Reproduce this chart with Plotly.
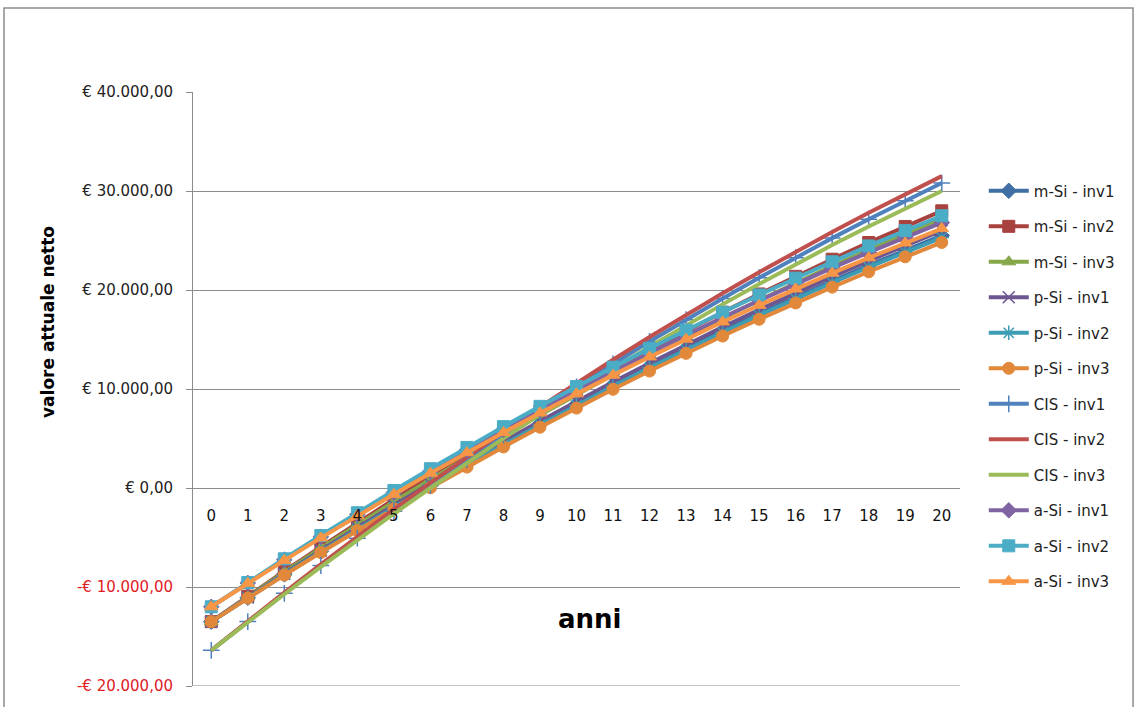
import plotly.graph_objects as go

anni = list(range(21))

m_si_inv1 = [-13500, -11080, -8710, -6390, -4120, -1900, 270, 2400, 4470, 6490, 8470, 10390, 12270, 14100, 15870, 17600, 19280, 20910, 22490, 24020, 25500]
m_si_inv2 = [-13500, -10930, -8400, -5940, -3520, -1160, 1160, 3420, 5620, 7780, 9880, 11930, 13920, 15870, 17760, 19600, 21380, 23110, 24800, 26420, 28000]
m_si_inv3 = [-13500, -10980, -8500, -6080, -3710, -1390, 870, 3090, 5250, 7370, 9430, 11440, 13390, 15300, 17150, 18960, 20710, 22410, 24060, 25650, 27200]
p_si_inv1 = [-13500, -11050, -8650, -6300, -4000, -1750, 450, 2600, 4700, 6750, 8750, 10700, 12600, 14450, 16250, 18000, 19700, 21350, 22950, 24500, 26000]
p_si_inv2 = [-13500, -11090, -8740, -6430, -4170, -1960, 200, 2320, 4380, 6390, 8360, 10270, 12140, 13960, 15720, 17440, 19110, 20730, 22300, 23830, 25300]
p_si_inv3 = [-13500, -11120, -8800, -6520, -4290, -2110, 30, 2110, 4150, 6140, 8070, 9970, 11810, 13600, 15350, 17040, 18690, 20290, 21840, 23350, 24800]
cis_inv1 = [-16400, -13490, -10640, -7830, -5070, -2360, 280, 2870, 5380, 7820, 10210, 12530, 14800, 17000, 19150, 21240, 23270, 25240, 27150, 29010, 30800]
cis_inv2 = [-16400, -13450, -10550, -7700, -4900, -2150, 530, 3150, 5700, 8180, 10600, 12960, 15260, 17500, 19680, 21800, 23860, 25860, 27800, 29680, 31500]
cis_inv3 = [-16400, -13540, -10730, -7970, -5260, -2600, 0, 2540, 5010, 7410, 9760, 12040, 14270, 16440, 18550, 20600, 22600, 24540, 26420, 28240, 30000]
a_si_inv1 = [-12000, -9590, -7240, -4930, -2670, -460, 1700, 3820, 5880, 7890, 9860, 11770, 13640, 15460, 17220, 18940, 20610, 22230, 23800, 25330, 26800]
a_si_inv2 = [-12000, -9550, -7150, -4800, -2500, -250, 1950, 4100, 6200, 8250, 10250, 12200, 14100, 15950, 17750, 19500, 21200, 22850, 24450, 26000, 27500]
a_si_inv3 = [-12000, -9630, -7310, -5040, -2810, -640, 1490, 3570, 5600, 7580, 9520, 11400, 13240, 15030, 16770, 18460, 20110, 21700, 23250, 24750, 26200]

series = [
    ("m-Si - inv1", m_si_inv1, "#3F6FA5", "diamond"),
    ("m-Si - inv2", m_si_inv2, "#A8423F", "square"),
    ("m-Si - inv3", m_si_inv3, "#86A84A", "triangle-up"),
    ("p-Si - inv1", p_si_inv1, "#6B5690", "x-thin-open"),
    ("p-Si - inv2", p_si_inv2, "#3E9CB4", "asterisk-open"),
    ("p-Si - inv3", p_si_inv3, "#E2883A", "circle"),
    ("CIS - inv1", cis_inv1, "#4F81BD", "cross-thin-open"),
    ("CIS - inv2", cis_inv2, "#C0504D", None),
    ("CIS - inv3", cis_inv3, "#9BBB59", None),
    ("a-Si - inv1", a_si_inv1, "#8064A2", "diamond"),
    ("a-Si - inv2", a_si_inv2, "#4BACC6", "square"),
    ("a-Si - inv3", a_si_inv3, "#F79646", "triangle-up"),
]

ytick_vals = [-20000, -10000, 0, 10000, 20000, 30000, 40000]
ytick_text = ['<span style="color:#E0201F">-€ 20.000,00</span>',
              '<span style="color:#E0201F">-€ 10.000,00</span>',
              "€ 0,00", "€ 10.000,00", "€ 20.000,00", "€ 30.000,00", "€ 40.000,00"]

FONT = "DejaVu Sans"

fig = go.Figure()
for i, (name, vals, col, sym) in enumerate(series):
    if sym is None:
        fig.add_trace(go.Scatter(x=anni, y=vals, name=name, mode="lines",
                                 line=dict(color=col, width=4),
                                 legendgroup=str(i)))
    else:
        open_sym = sym.endswith("open")
        fig.add_trace(go.Scatter(
            x=anni, y=vals, name=name, mode="lines+markers",
            line=dict(color=col, width=4),
            marker=dict(symbol=sym, size=12, color=col,
                        line=dict(color=col, width=1.5 if open_sym else 1)),
            legendgroup=str(i)))

fig.update_layout(
    width=1137, height=707,
    margin=dict(l=193, r=177, t=92, b=21),
    paper_bgcolor="white", plot_bgcolor="white",
    font=dict(family=FONT, size=15, color="#222222"),
    showlegend=True,
    legend=dict(x=1.031, y=0.861, xanchor="left", yanchor="top",
                font=dict(family=FONT, size=15, color="#222222"),
                traceorder="grouped", tracegroupgap=13, itemwidth=40,
                bgcolor="rgba(0,0,0,0)"),
    xaxis=dict(type="linear", range=[-0.5, 20.5], tickmode="array",
               tickvals=anni, ticktext=[str(a) for a in anni],
               anchor="free", position=1/3, showgrid=False, zeroline=False,
               showline=False, ticks="", ticklabelstandoff=17,
               tickfont=dict(family=FONT, size=15, color="#111111")),
    yaxis=dict(range=[-20000, 40000], tickmode="array", tickvals=ytick_vals,
               ticktext=ytick_text, showgrid=True, gridcolor="#8C8C8C", gridwidth=1,
               zeroline=True, zerolinecolor="#8C8C8C", zerolinewidth=1,
               showline=True, linecolor="#8C8C8C", linewidth=1,
               ticks="outside", ticklen=6, tickcolor="#8C8C8C",
               ticklabelstandoff=10,
               tickfont=dict(family=FONT, size=15, color="#222222")),
    annotations=[
        dict(text="<b>valore attuale netto</b>", xref="paper", yref="paper",
             x=-0.204, y=0.612, textangle=-90, showarrow=False,
             font=dict(family=FONT, size=17, color="#000000")),
        dict(text="<b>anni</b>", xref="paper", yref="paper",
             x=0.5176, y=0.084, showarrow=False,
             font=dict(family=FONT, size=26, color="#000000")),
    ],
    shapes=[
        dict(type="rect", xref="paper", yref="paper", x0=-0.2464, x1=1.2256,
             y0=-0.06, y1=1.1414, line=dict(color="#8C8C8C", width=1.5),
             fillcolor="rgba(0,0,0,0)", layer="below"),
        dict(type="line", xref="paper", yref="y", x0=0, x1=1, y0=-20000, y1=-20000,
             line=dict(color="#8C8C8C", width=1)),
    ],
)

fig.write_html("out.html")
